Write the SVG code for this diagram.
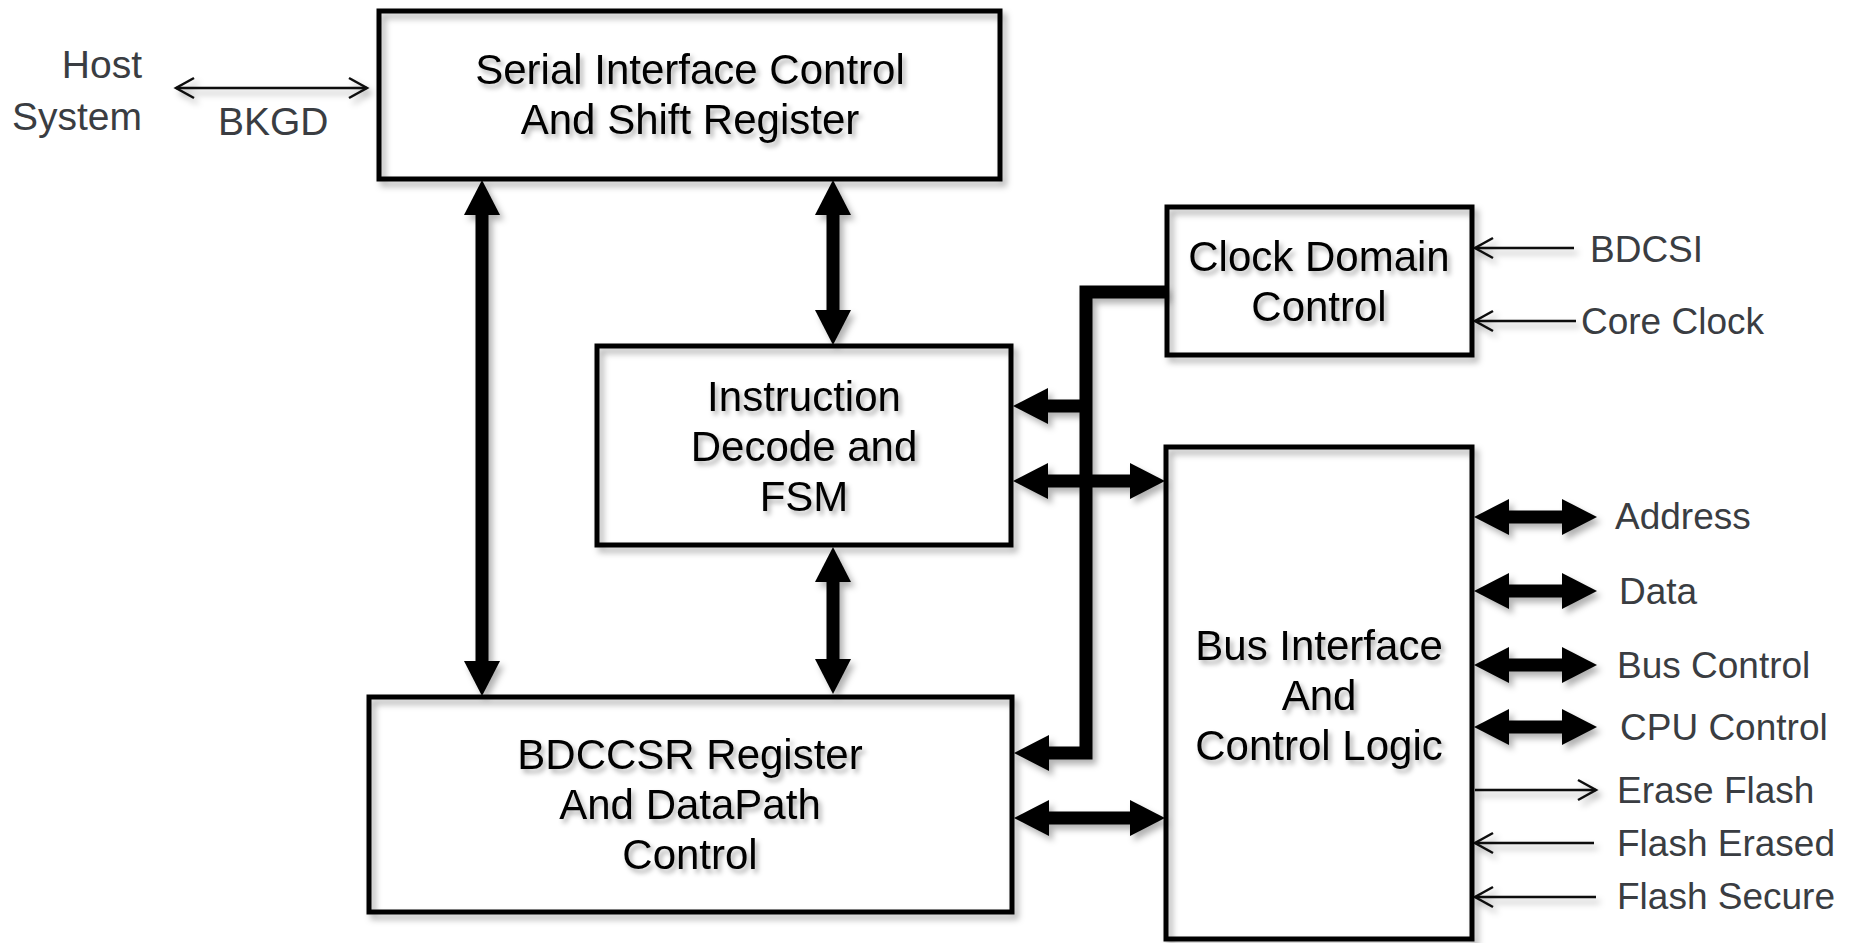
<svg xmlns="http://www.w3.org/2000/svg" width="1851" height="943" viewBox="0 0 1851 943">
  <defs>
    <style>
      .box { fill: none; stroke: #000; stroke-width: 5; }
      .boxtxt { font-family: "Liberation Sans", Arial, sans-serif; font-size: 42px; fill: #000; text-anchor: middle; }
      .lbl { font-family: "Liberation Sans", Arial, sans-serif; font-size: 37px; fill: #3a3d42; }
      .bus { fill: none; stroke: #000; stroke-width: 13; stroke-linejoin: miter; }
      .wire { fill: none; stroke: #111; stroke-width: 2.5; }
      .thick2 { marker-start: url(#bighead); marker-end: url(#bighead); }
      .thick1 { marker-end: url(#bighead); }
      .thin2 { marker-start: url(#thinhead); marker-end: url(#thinhead); }
      .thin1 { marker-end: url(#thinhead); }
    </style>
    <!-- solid head for the wide bus arrows; base sits on the line end -->
    <marker id="bighead" markerUnits="userSpaceOnUse" viewBox="0 0 35 36" markerWidth="35" markerHeight="36" refX="1" refY="18" orient="auto-start-reverse">
      <path d="M0,0 L35,18 L0,36 Z" fill="#000"/>
    </marker>
    <!-- open chevron head for single signal wires; tip sits on the line end -->
    <marker id="thinhead" markerUnits="userSpaceOnUse" viewBox="-22 -14 26 28" markerWidth="26" markerHeight="28" refX="0" refY="0" orient="auto-start-reverse">
      <path d="M-18,-10 L0,0 L-18,10" fill="none" stroke="#111" stroke-width="2.5"/>
    </marker>
    <filter id="shadow" x="-10%" y="-10%" width="130%" height="130%">
      <feDropShadow dx="4" dy="5" stdDeviation="3" flood-color="#000" flood-opacity="0.3"/>
    </filter>
    <filter id="tshadow" x="-10%" y="-20%" width="130%" height="150%">
      <feDropShadow dx="3" dy="4" stdDeviation="2.4" flood-color="#000" flood-opacity="0.32"/>
    </filter>
  </defs>

  <rect width="1851" height="943" fill="#fff"/>

  <!-- external signal names -->
  <g id="ext-labels" class="lbl">
    <text x="142" y="78" text-anchor="end" font-size="39">Host</text>
    <text x="142" y="130" text-anchor="end" font-size="39">System</text>
    <text x="218" y="135" font-size="39">BKGD</text>
    <text x="1590" y="262">BDCSI</text>
    <text x="1581" y="334">Core Clock</text>
    <text x="1615" y="529">Address</text>
    <text x="1619" y="604">Data</text>
    <text x="1617" y="678">Bus Control</text>
    <text x="1620" y="740">CPU Control</text>
    <text x="1617" y="803">Erase Flash</text>
    <text x="1617" y="856">Flash Erased</text>
    <text x="1617" y="909">Flash Secure</text>
  </g>

  <!-- connectors -->
  <g id="connectors" filter="url(#shadow)">
    <!-- wide internal buses -->
    <line class="bus thick2" x1="482" y1="214" x2="482" y2="662"/>
    <line class="bus thick2" x1="833" y1="214" x2="833" y2="311"/>
    <line class="bus thick2" x1="833" y1="581" x2="833" y2="660"/>
    <path class="bus thick1" d="M1167,292 H1086 V753 H1048"/>
    <line class="bus thick1" x1="1086" y1="406" x2="1047" y2="406"/>
    <line class="bus thick2" x1="1047" y1="481" x2="1131" y2="481"/>
    <line class="bus thick2" x1="1048" y1="818" x2="1131" y2="818"/>
    <line class="bus thick2" x1="1508" y1="517" x2="1563" y2="517"/>
    <line class="bus thick2" x1="1508" y1="591" x2="1563" y2="591"/>
    <line class="bus thick2" x1="1508" y1="665" x2="1563" y2="665"/>
    <line class="bus thick2" x1="1508" y1="727" x2="1563" y2="727"/>
    <!-- single wires -->
    <line class="wire thin2" x1="176" y1="88" x2="367" y2="88"/>
    <line class="wire thin1" x1="1574" y1="248" x2="1475" y2="248"/>
    <line class="wire thin1" x1="1576" y1="321" x2="1475" y2="321"/>
    <line class="wire thin1" x1="1475" y1="790" x2="1596" y2="790"/>
    <line class="wire thin1" x1="1594" y1="843" x2="1475" y2="843"/>
    <line class="wire thin1" x1="1596" y1="897" x2="1475" y2="897"/>
  </g>

  <!-- blocks -->
  <g id="serial-interface">
    <rect class="box" x="379" y="11" width="621" height="168" filter="url(#shadow)"/>
    <g class="boxtxt" filter="url(#tshadow)">
      <text x="690" y="84">Serial Interface Control</text>
      <text x="690" y="134">And Shift Register</text>
    </g>
  </g>

  <g id="instruction-decode">
    <rect class="box" x="597" y="346" width="414" height="199" filter="url(#shadow)"/>
    <g class="boxtxt" filter="url(#tshadow)">
      <text x="804" y="411">Instruction</text>
      <text x="804" y="461">Decode and</text>
      <text x="804" y="511">FSM</text>
    </g>
  </g>

  <g id="bdccsr">
    <rect class="box" x="369" y="697" width="643" height="215" filter="url(#shadow)"/>
    <g class="boxtxt" filter="url(#tshadow)">
      <text x="690" y="769">BDCCSR Register</text>
      <text x="690" y="819">And DataPath</text>
      <text x="690" y="869">Control</text>
    </g>
  </g>

  <g id="clock-domain">
    <rect class="box" x="1167" y="207" width="305" height="148" filter="url(#shadow)"/>
    <g class="boxtxt" filter="url(#tshadow)">
      <text x="1319" y="271">Clock Domain</text>
      <text x="1319" y="321">Control</text>
    </g>
  </g>

  <g id="bus-interface">
    <rect class="box" x="1166" y="447" width="306" height="492" filter="url(#shadow)"/>
    <g class="boxtxt" filter="url(#tshadow)">
      <text x="1319" y="660">Bus Interface</text>
      <text x="1319" y="710">And</text>
      <text x="1319" y="760">Control Logic</text>
    </g>
  </g>
</svg>
